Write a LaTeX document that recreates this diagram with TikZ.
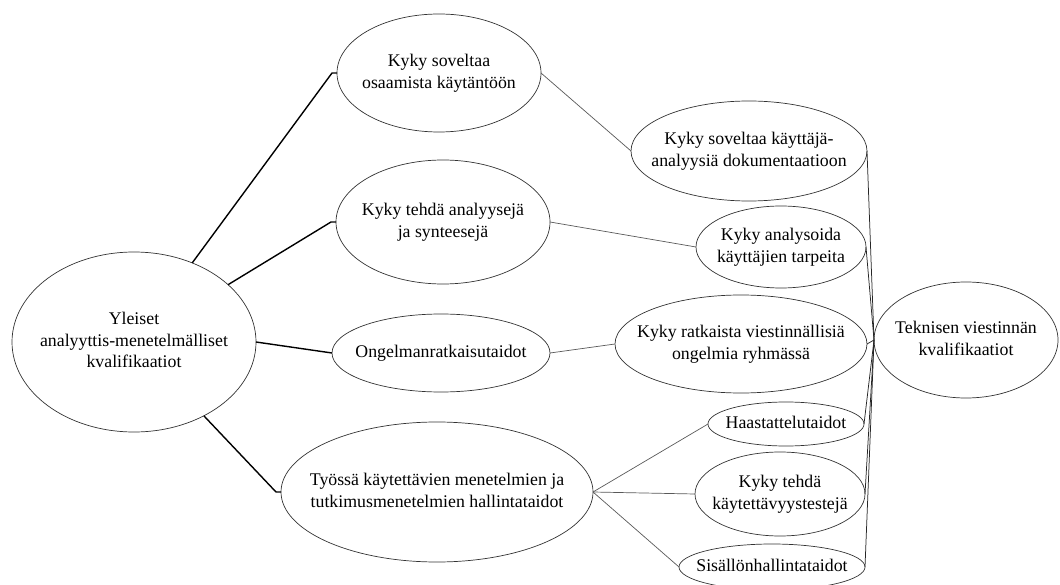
\documentclass[tikz,border=0pt]{standalone}
\usepackage{fontspec}
\setmainfont{Liberation Serif}
\usetikzlibrary{shapes.geometric}
% centred multi-line label of zero width, so the ellipse size is set only by its minimum sizes
\newcommand\lbl[1]{\makebox[0pt]{\begin{tabular}{@{}c@{}}#1\end{tabular}}}
\tikzset{
  oval/.style={ellipse, draw=black!80, line width=0.7pt, inner sep=0pt, outer sep=0pt,
    font=\fontsize{17.8}{21.5}\selectfont, text=black},
  mainlink/.style={draw=black, line width=1.4pt},
  sublink/.style={draw=black!65, line width=0.7pt},
  outlink/.style={draw=black!85, line width=0.75pt},
}
\begin{document}
\begin{tikzpicture}[x=1pt,y=-1pt]
\useasboundingbox (0,0) rectangle (1060,585);
\clip (0,0) rectangle (1060,585);

% general analytical-methodological qualifications
\node[oval, minimum width=244pt, minimum height=180pt] (root) at (134,342)
  {\lbl{Yleiset\\analyyttis-menetelmälliset\\kvalifikaatiot}};

% first branch level
\node[oval, minimum width=204pt, minimum height=118pt] (A) at (439,73)
  {\lbl{Kyky soveltaa\\osaamista käytäntöön}};
\node[oval, minimum width=214pt, minimum height=124pt] (B) at (443,222)
  {\lbl{Kyky tehdä analyysejä\\ja synteesejä}};
\node[oval, minimum width=218pt, minimum height=78pt] (C) at (441,353)
  {\lbl{Ongelmanratkaisutaidot}};
\node[oval, minimum width=312pt, minimum height=140pt] (D) at (437,492)
  {\lbl{Työssä käytettävien menetelmien ja\\tutkimusmenetelmien hallintataidot}};

% second branch level
\node[oval, minimum width=236pt, minimum height=100pt] (E) at (749,151)
  {\lbl{Kyky soveltaa käyttäjä-\\analyysiä dokumentaatioon}};
\node[oval, minimum width=170pt, minimum height=82pt] (F) at (781,247)
  {\lbl{Kyky analysoida\\käyttäjien tarpeita}};
\node[oval, minimum width=252pt, minimum height=98pt] (G) at (741,344)
  {\lbl{Kyky ratkaista viestinnällisiä\\ongelmia ryhmässä}};
\node[oval, minimum width=156pt, minimum height=44pt] (I) at (786,424)
  {\lbl{Haastattelutaidot}};
\node[oval, minimum width=170pt, minimum height=84pt] (J) at (780,494)
  {\lbl{Kyky tehdä\\käytettävyystestejä}};
\node[oval, minimum width=186pt, minimum height=46pt] (K) at (772,567)
  {\lbl{Sisällönhallintataidot}};

% technical communication qualifications
\node[oval, minimum width=184pt, minimum height=116pt] (H) at (966,340)
  {\lbl{Teknisen viestinnän\\kvalifikaatiot}};

% links from the root
\draw[mainlink] (root) -- ([xshift=-5pt]A.west) -- (A.west);
\draw[mainlink] (root) -- ([xshift=-5pt]B.west) -- (B.west);
\draw[mainlink] (root.east) -- (C.west);
\draw[mainlink] (root) -- ([xshift=-5pt]D.west) -- (D.west);

% links to the second level
\draw[sublink] (A.east) -- (E.west);
\draw[sublink] (B.east) -- (F.west);
\draw[sublink] (C.east) -- (G.west);
\draw[sublink] (D.east) -- (I.west);
\draw[sublink] (D.east) -- (J.west);
\draw[sublink] (D.east) -- (K.west);

% links converging on the technical communication node
\foreach \n in {E,F,G,I,J,K}
  \draw[outlink] (\n.east) -- (H.west);
\end{tikzpicture}
\end{document}
